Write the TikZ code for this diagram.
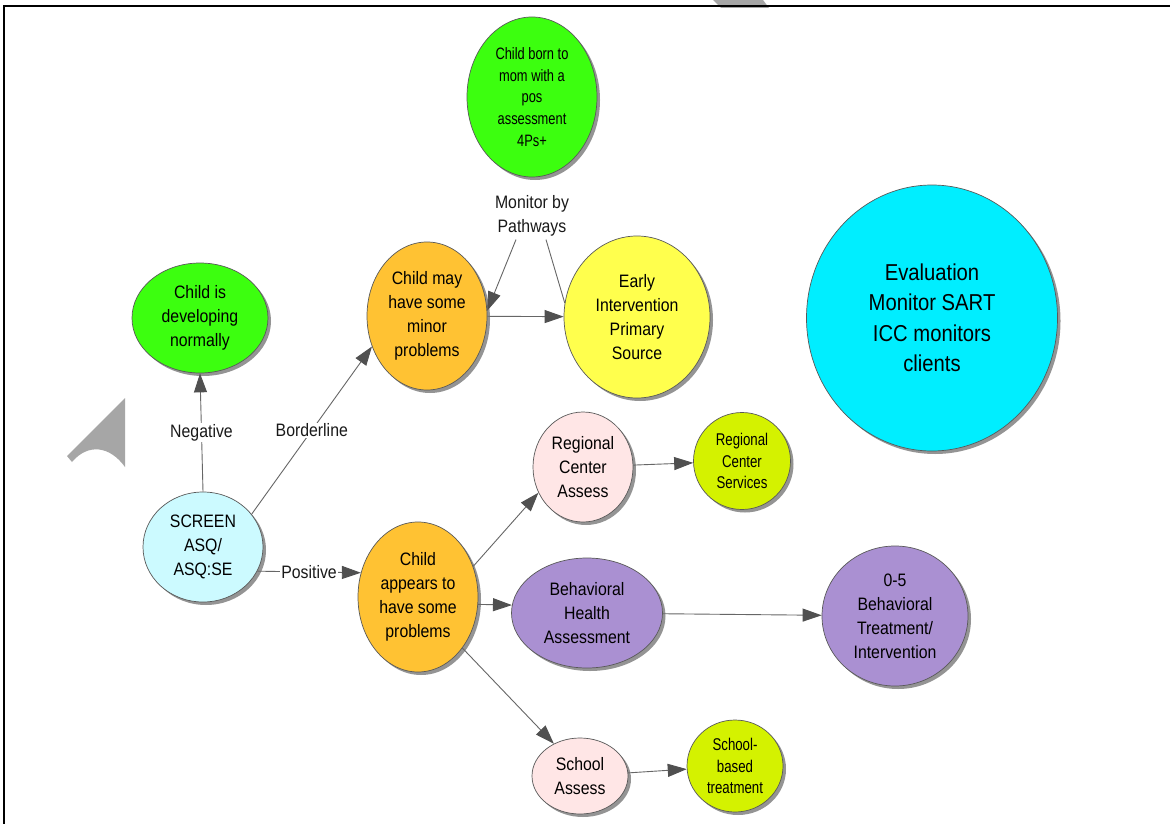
\documentclass[tikz,border=0pt]{standalone}
\usepackage{fontspec}
\setmainfont{Liberation Sans}[FakeStretch=0.88]
\newfontfamily\condfont{Liberation Sans}[FakeStretch=0.78]
\usetikzlibrary{shapes.geometric,arrows.meta,shadows}
\definecolor{cgreen}{HTML}{3CFF0F}
\definecolor{corange}{HTML}{FFC233}
\definecolor{cyellow}{HTML}{FFFF4D}
\definecolor{clcyan}{HTML}{CCFAFF}
\definecolor{cpink}{HTML}{FFE6E6}
\definecolor{clime}{HTML}{D4F200}
\definecolor{cpurple}{HTML}{AA90D2}
\definecolor{ccyan}{HTML}{00EEFF}
\definecolor{cline}{HTML}{666666}
\definecolor{chead}{HTML}{505050}
\begin{document}
\begin{tikzpicture}[x=1pt,y=-1pt,
  nd/.style={ellipse, draw=black!65, line width=0.7pt, inner sep=0pt, align=center,
    text=black, font=\fontsize{18}{24}\selectfont,
    general shadow={fill=black!42, shadow xshift=3pt, shadow yshift=-3pt}},
  cond/.style={font=\condfont\fontsize{17}{21.6}\selectfont},
  lbl/.style={fill=white, inner sep=1pt, align=center, text=black!90,
    font=\fontsize{18}{24}\selectfont},
  arr/.style={draw=cline, line width=0.9pt, -{Triangle[length=19pt,width=13pt,color=chead,fill=chead]}},
  plain/.style={draw=cline, line width=0.9pt}]
\useasboundingbox (0,0) rectangle (1170,824);
\fill[white] (0,0) rectangle (1170,824);
% watermark fragments
\fill[black!35] (67,456) -- (125,398) -- (125,467) .. controls (110,446) and (88,443) .. (72,462) -- cycle;
\fill[black!35] (713,0) -- (763,0) -- (769,8) -- (721,8) -- cycle;
% frame
\draw[line width=2.4pt] (4,824) -- (4,6) -- (1170,6);
% nodes
\node[nd, cond, fill=cgreen, minimum width=130, minimum height=160, font=\condfont\fontsize{16.5}{21.7}\selectfont] (born) at (532,97) {Child born to\\mom with a\\pos\\assessment\\4Ps+};
\node[lbl] (mp) at (532,216) {Monitor by\\Pathways};
\node[nd, fill=corange, minimum width=120, minimum height=148] (minor) at (427,316) {Child may\\have some\\minor\\problems};
\node[nd, fill=cyellow, minimum width=146, minimum height=162] (ei) at (637,317) {Early\\Intervention\\Primary\\Source};
\node[nd, fill=cgreen, minimum width=136, minimum height=110] (normal) at (200,318) {Child is\\developing\\normally};
\node[nd, fill=clcyan, minimum width=120, minimum height=110] (screen) at (203,547) {SCREEN\\ASQ/\\ASQ:SE};
\node[nd, fill=corange, minimum width=120, minimum height=150] (appears) at (418,597) {Child\\appears to\\have some\\problems};
\node[nd, fill=cpink, minimum width=100, minimum height=110] (rca) at (583,467) {Regional\\Center\\Assess};
\node[nd, cond, fill=clime, minimum width=97, minimum height=97] (rcs) at (742,461) {Regional\\Center\\Services};
\node[nd, fill=cpurple, minimum width=151, minimum height=110] (bha) at (587,613) {Behavioral\\Health\\Assessment};
\node[nd, fill=cpurple, minimum width=146, minimum height=140] (treat) at (895,616) {0-5\\Behavioral\\Treatment/\\Intervention};
\node[nd, fill=cpink, minimum width=96, minimum height=76] (sa) at (580,776) {School\\Assess};
\node[nd, cond, fill=clime, minimum width=96, minimum height=92] (sbt) at (735,766) {School-\\based\\treatment};
\node[nd, fill=ccyan, minimum width=251, minimum height=266, font=\fontsize{23}{30.5}\selectfont] (eval) at (932,318) {Evaluation\\Monitor SART\\ICC monitors\\clients};
% connectors
\draw[arr] (screen.north) -- node[lbl]{Negative} (normal.south);
\draw[arr] (screen.34) -- node[lbl]{Borderline} (minor.209);
\draw[arr] (screen.336) -- node[lbl]{Positive} (appears.157);
\draw[arr] (minor) -- (ei);
\draw[arr] ([xshift=-16pt,yshift=-2pt]mp.south) -- (minor.5);
\draw[plain] ([xshift=14pt,yshift=-2pt]mp.south) -- (ei.169);
\draw[arr] (appears.29) -- (rca.210);
\draw[arr] (appears.353) -- (bha.174);
\draw[arr] (appears.311) -- (sa.129);
\draw[arr] (rca) -- (rcs);
\draw[arr] (bha) -- (treat);
\draw[arr] (sa) -- (sbt);
\end{tikzpicture}
\end{document}
